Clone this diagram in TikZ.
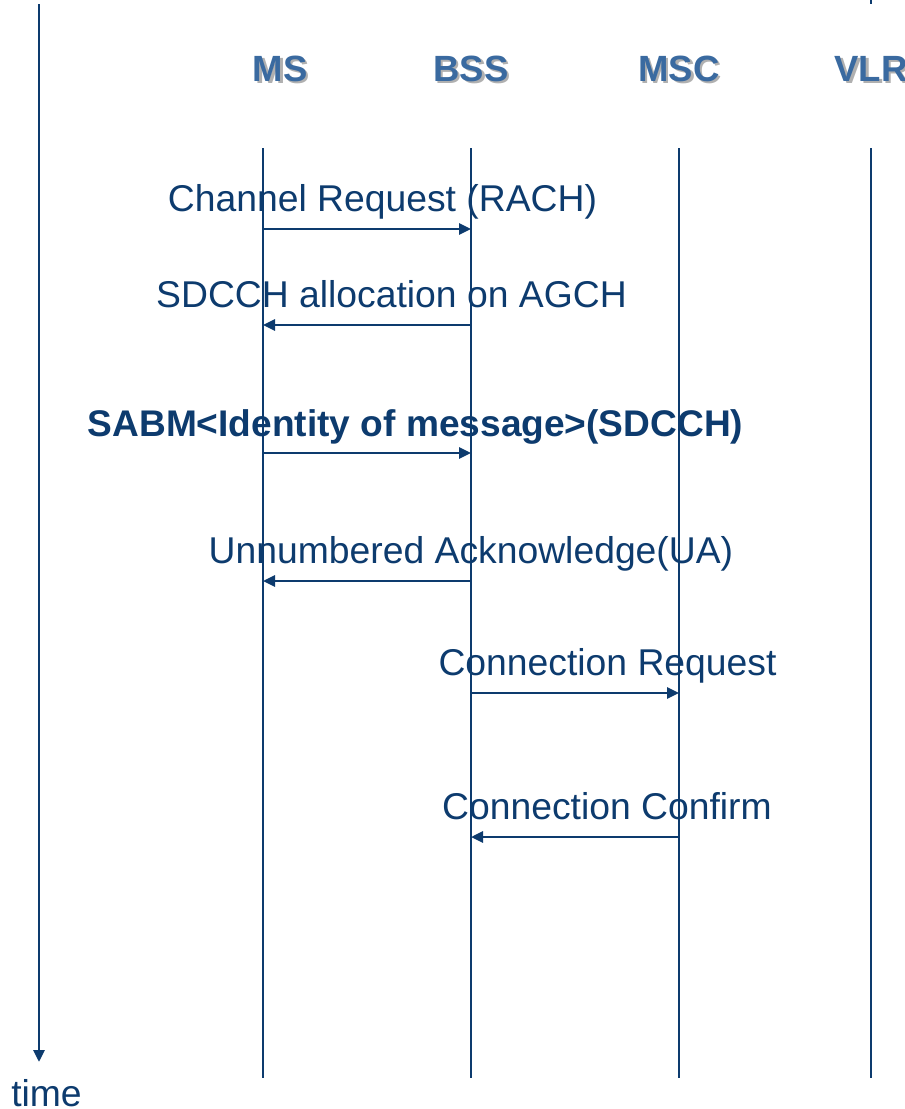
\documentclass[tikz,border=0pt]{standalone}
\usepackage{fontspec}
\setmainfont{Liberation Sans}
\usetikzlibrary{arrows.meta}
\definecolor{navy}{HTML}{0D3B6E}
\definecolor{headblue}{HTML}{3A6AA0}
\definecolor{headshadow}{HTML}{B0B0B0}
% header text with a grey drop shadow behind it
\newcommand{\shadowed}[1]{\rlap{\hspace{2.5pt}\raisebox{-2.5pt}{\textcolor{headshadow}{#1}}}#1}
\tikzset{
  lifeline/.style={navy, line width=2.9pt},
  msg/.style={navy, line width=2.7pt, -{Triangle[length=12pt,width=11pt]}},
  msgtext/.style={navy, inner sep=0pt, anchor=base, font=\fontsize{37.3}{40}\selectfont},
  boldtext/.style={msgtext, font=\fontsize{37.1}{40}\selectfont\bfseries},
  head/.style={headblue, inner sep=0pt, anchor=base, font=\fontsize{36.5}{40}\selectfont\bfseries},
}
\begin{document}
\begin{tikzpicture}[x=1pt, y=-1pt]
\useasboundingbox (0,0) rectangle (905,1109);

% time axis
\coordinate (t0) at (39,4);
\coordinate (t1) at (39,1062);
\draw[navy, line width=2.9pt, -{Triangle[length=12pt,width=11pt]}] (t0) -- (t1);
\node[msgtext] (timelbl) at (46.5,1106) {time};

% stub of a line at the top edge
\coordinate (s0) at (871,0);
\coordinate (s1) at (871,4);
\draw[lifeline] (s0) -- (s1);

% headers with drop shadow
\foreach \n/\x/\t in {ms/280/MS, bss/471/BSS, msc/679/MSC, vlr/871/VLR} {
  \node[head] (\n h) at (\x,81) {\shadowed{\t}};
}

% lifelines
\foreach \n/\x in {ms/263, bss/471, msc/679, vlr/871} {
  \coordinate (\n top) at (\x,148);
  \coordinate (\n bot) at (\x,1078);
  \draw[lifeline] (\n top) -- (\n bot);
}

% message end points
\coordinate (ms1) at (263,229);  \coordinate (bss1) at (471,229);
\coordinate (ms2) at (263,325);  \coordinate (bss2) at (471,325);
\coordinate (ms3) at (263,453);  \coordinate (bss3) at (471,453);
\coordinate (ms4) at (263,581);  \coordinate (bss4) at (471,581);
\coordinate (bss5) at (471,693); \coordinate (msc5) at (679,693);
\coordinate (bss6) at (471,837); \coordinate (msc6) at (679,837);

% messages
\draw[msg] (ms1) -- (bss1);
\draw[msg] (bss2) -- (ms2);
\draw[msg] (ms3) -- (bss3);
\draw[msg] (bss4) -- (ms4);
\draw[msg] (bss5) -- (msc5);
\draw[msg] (msc6) -- (bss6);

% labels
\node[msgtext]  (l1) at (382.5,211) {Channel Request (RACH)};
\node[msgtext]  (l2) at (391.5,307) {SDCCH allocation on AGCH};
\node[boldtext] (l3) at (415.5,436) {SABM<Identity of message>(SDCCH)};
\node[msgtext]  (l4) at (471,563) {Unnumbered Acknowledge(UA)};
\node[msgtext]  (l5) at (607.5,675) {Connection Request};
\node[msgtext]  (l6) at (607,819) {Connection Confirm};
\end{tikzpicture}
\end{document}
